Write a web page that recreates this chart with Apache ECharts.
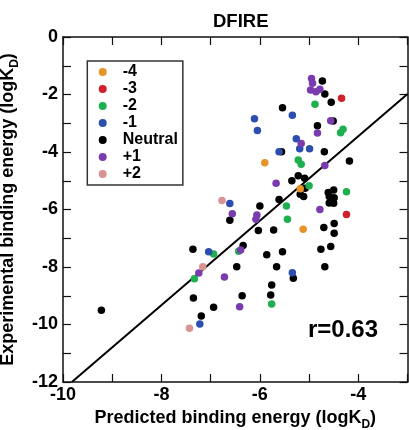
<!DOCTYPE html>
<html><head><meta charset="utf-8">
<script src="https://cdn.jsdelivr.net/npm/echarts@6/dist/echarts.min.js"></script>
<style>html,body{margin:0;padding:0;background:#fff}#c{width:409px;height:430px}</style>
</head><body><div id="c"></div>
<script>
const groupNames = ['-4', '-3', '-2', '-1', 'Neutral', '+1', '+2'];
const groupColors = ['#E8922A', '#D0202A', '#1DAF50', '#2B4EAF', '#000000', '#7A3BAE', '#D89393'];
const chargeM4 = [[-5.90,-4.37],[-5.18,-5.28],[-5.12,-6.69]];
const chargeM3 = [[-4.34,-2.13],[-4.24,-6.17]];
const chargeM2 = [[-4.88,-2.34],[-4.36,-3.33],[-4.31,-3.21],[-5.22,-4.28],[-5.16,-4.43],[-5.00,-5.17],[-4.24,-5.38],[-5.46,-5.88],[-5.44,-6.34],[-5.76,-9.29],[-6.43,-7.45],[-6.94,-7.55],[-7.33,-8.41]];
const chargeM1 = [[-6.11,-2.84],[-6.05,-3.25],[-5.34,-2.72],[-5.26,-3.54],[-5.19,-3.89],[-4.99,-3.89],[-5.61,-3.99],[-6.61,-5.79],[-7.04,-7.47],[-5.34,-8.20],[-7.22,-9.98]];
const neutral = [[-4.73,-1.53],[-4.68,-1.98],[-4.55,-2.27],[-5.54,-2.46],[-4.51,-2.92],[-4.83,-3.09],[-5.56,-3.99],[-4.69,-3.99],[-4.18,-4.31],[-5.22,-4.83],[-5.35,-5.00],[-5.09,-4.91],[-5.08,-5.26],[-5.18,-5.47],[-5.11,-5.55],[-4.61,-5.41],[-4.50,-5.32],[-4.59,-5.55],[-4.49,-5.59],[-4.59,-5.77],[-4.50,-5.78],[-5.61,-5.65],[-6.00,-5.88],[-6.61,-6.37],[-6.03,-6.73],[-5.72,-6.71],[-4.70,-6.63],[-4.49,-6.49],[-4.49,-6.83],[-6.34,-7.25],[-6.47,-7.99],[-5.86,-7.57],[-5.54,-7.47],[-5.66,-7.99],[-5.32,-8.39],[-4.76,-7.38],[-4.56,-7.29],[-4.68,-7.99],[-5.76,-8.63],[-5.78,-8.97],[-6.36,-9.00],[-7.36,-7.38],[-7.35,-9.08],[-6.94,-9.40],[-7.19,-9.70],[-9.22,-9.50]];
const chargeP1 = [[-4.95,-1.44],[-4.93,-1.61],[-4.97,-1.84],[-4.86,-1.90],[-4.78,-1.82],[-4.56,-2.91],[-4.83,-3.34],[-5.16,-3.70],[-4.68,-4.47],[-5.67,-5.09],[-4.78,-6.00],[-6.56,-6.15],[-6.06,-6.19],[-6.08,-6.34],[-6.39,-7.41],[-6.72,-8.35],[-7.24,-8.21],[-6.41,-9.38]];
const chargeP2 = [[-6.77,-5.69],[-7.16,-7.99],[-7.43,-10.13]];
const groupData = [chargeM4, chargeM3, chargeM2, chargeM1, neutral, chargeP1, chargeP2];
const fitLine = [[-9.82,-12],[-3,-1.98]];
const xRange = [-10, -3];
const yRange = [-12, 0];
const corrText = 'r=0.63';

const FONT = '"Liberation Sans", Arial, Helvetica, sans-serif';
const chart = echarts.init(document.getElementById('c'), null, {renderer: 'canvas'});
const evenLabel = v => (Math.round(v) % 2 === 0 ? String(Math.round(v)) : '');
const axisBase = {
  type: 'value', interval: 1,
  axisLine: {show: true, onZero: false, lineStyle: {color: '#111', width: 1.5}},
  axisTick: {show: true, inside: true, length: 8, lineStyle: {color: '#111', width: 1.2}},
  splitLine: {show: false},
  axisLabel: {show: true, formatter: evenLabel, color: '#000', fontSize: 18, fontWeight: 'bold', fontFamily: FONT, hideOverlap: false, showMinLabel: true, showMaxLabel: true},
};
const order = [4, 0, 1, 2, 3, 5, 6];
const series = order.map(i => ({
  name: groupNames[i], type: 'scatter', data: groupData[i],
  symbol: 'circle', symbolSize: 7.5,
  itemStyle: {color: groupColors[i], opacity: 1},
  xAxisIndex: 0, yAxisIndex: 0, z: 3, silent: true
}));
series.unshift({
  type: 'line', data: fitLine, showSymbol: false, symbol: 'none',
  lineStyle: {color: '#000', width: 2}, xAxisIndex: 0, yAxisIndex: 0, z: 2, silent: true
});
chart.setOption({
  animation: false,
  backgroundColor: '#fff',
  title: {text: 'DFIRE', left: 208, top: 7, textStyle: {fontSize: 18.5, fontWeight: 'bold', color: '#000', fontFamily: FONT}},
  grid: {left: 63, right: 1.5, top: 37, bottom: 48, containLabel: false, outerBoundsMode: 'none'},
  legend: {
    data: groupNames, orient: 'vertical', left: 87.3, top: 61,
    padding: [3, 5, 3, 11.4], itemGap: 1, itemWidth: 8, itemHeight: 8, icon: 'circle',
    borderColor: '#333', borderWidth: 1.5,
    textStyle: {fontSize: 16, fontWeight: 'bold', color: '#000', fontFamily: FONT, lineHeight: 16, padding: [0, 0, 0, 11]},
    selectedMode: false
  },
  xAxis: [
    Object.assign({}, axisBase, {min: xRange[0], max: xRange[1], position: 'bottom',
      axisLabel: Object.assign({}, axisBase.axisLabel, {margin: 4}),
      name: '{a|Predicted binding energy (logK}{s|D}{a|)}', nameLocation: 'middle', nameGap: 25,
      nameTextStyle: {rich: {a: {fontSize: 18, fontWeight: 'bold', fontFamily: FONT, color: '#000', lineHeight: 22, verticalAlign: 'top'}, s: {fontSize: 12, fontWeight: 'bold', fontFamily: FONT, color: '#000', lineHeight: 12, verticalAlign: 'bottom'}}}
    }),
    Object.assign({}, axisBase, {min: xRange[0], max: xRange[1], position: 'top', axisLabel: {show: false}})
  ],
  yAxis: [
    Object.assign({}, axisBase, {min: yRange[0], max: yRange[1], position: 'left',
      axisLabel: Object.assign({}, axisBase.axisLabel, {margin: 5}),
      name: '{a|Experimental binding energy (logK}{s|D}{a|)}', nameLocation: 'middle', nameGap: 33, nameRotate: 90,
      nameTextStyle: {rich: {a: {fontSize: 18, fontWeight: 'bold', fontFamily: FONT, color: '#000', lineHeight: 22, verticalAlign: 'top'}, s: {fontSize: 12, fontWeight: 'bold', fontFamily: FONT, color: '#000', lineHeight: 12, verticalAlign: 'bottom'}}}
    }),
    Object.assign({}, axisBase, {min: yRange[0], max: yRange[1], position: 'right', axisLabel: {show: false}})
  ],
  graphic: [{type: 'text', left: 308, top: 318, style: {text: corrText, font: 'bold 24px ' + FONT, fill: '#000'}}],
  series: series
});
</script></body></html>
